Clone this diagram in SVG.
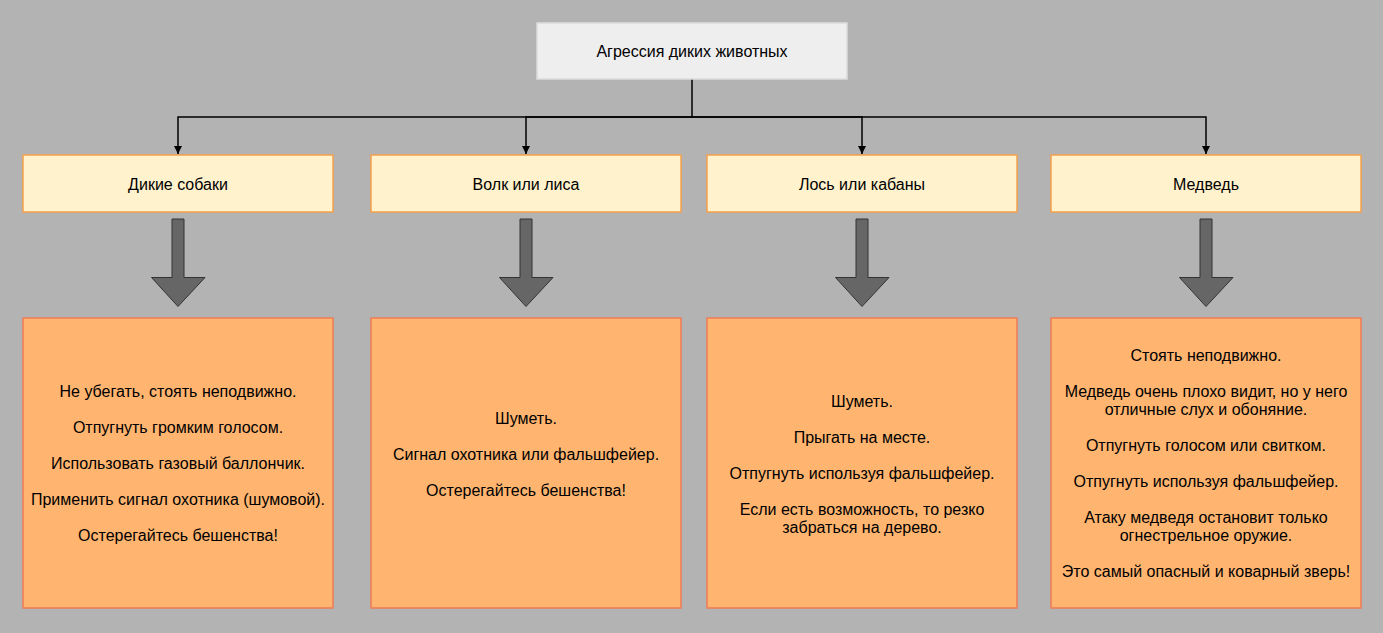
<svg xmlns="http://www.w3.org/2000/svg" width="1383" height="633" viewBox="0 0 1383 633">
<style>
text{font-family:"Liberation Sans",Arial,sans-serif;font-size:16px;fill:#000;text-anchor:middle}
.top{fill:#eeeeee;stroke:#dcdcdc;stroke-width:1.5}
.mid{fill:#fff2cc;stroke:#f5a04a;stroke-width:1.5}
.bot{fill:#ffb570;stroke:#ee7b55;stroke-width:1.5}
.con{fill:none;stroke:#000;stroke-width:1.5}
.big{fill:#666666;stroke:#333333;stroke-width:1}
</style>
<defs>
<marker id="ah" markerWidth="10" markerHeight="10" refX="8" refY="5" orient="auto" markerUnits="userSpaceOnUse">
<path d="M0,1 L8,5 L0,9 Z" fill="#000"/>
</marker>
</defs>
<rect width="1383" height="633" fill="#b3b3b3"/>
<g id="connectors">
<path class="con" d="M692,79 V117 H178 V154" marker-end="url(#ah)"/>
<path class="con" d="M692,117 H526 V154" marker-end="url(#ah)"/>
<path class="con" d="M692,117 H862 V154" marker-end="url(#ah)"/>
<path class="con" d="M692,117 H1206 V154" marker-end="url(#ah)"/>
<path class="big" d="M172,219 H184 V277.5 H205 L178,306.5 L151.5,277.5 H172 Z"/>
<path class="big" d="M520,219 H532 V277.5 H553 L526,306.5 L499.5,277.5 H520 Z"/>
<path class="big" d="M856,219 H868 V277.5 H889 L862,306.5 L835.5,277.5 H856 Z"/>
<path class="big" d="M1200,219 H1212 V277.5 H1233 L1206,306.5 L1179.5,277.5 H1200 Z"/>
</g>
<g id="root"><rect class="top" x="537" y="23" width="310" height="56"/><text x="692" y="57">Агрессия диких животных</text></g>
<g id="dogs"><rect class="mid" x="23" y="155" width="310" height="57"/><text x="178" y="190">Дикие собаки</text></g>
<g id="wolf"><rect class="mid" x="371" y="155" width="310" height="57"/><text x="526" y="190">Волк или лиса</text></g>
<g id="moose"><rect class="mid" x="707" y="155" width="310" height="57"/><text x="862" y="190">Лось или кабаны</text></g>
<g id="bear"><rect class="mid" x="1051" y="155" width="310" height="57"/><text x="1206" y="190">Медведь</text></g>
<g id="dogs-advice"><rect class="bot" x="23" y="318" width="310" height="290"/>
<text x="178" y="397">Не убегать, стоять неподвижно.</text>
<text x="178" y="433">Отпугнуть громким голосом.</text>
<text x="178" y="469">Использовать газовый баллончик.</text>
<text x="178" y="505">Применить сигнал охотника (шумовой).</text>
<text x="178" y="541">Остерегайтесь бешенства!</text>
</g>
<g id="wolf-advice"><rect class="bot" x="371" y="318" width="310" height="290"/>
<text x="526" y="424">Шуметь.</text>
<text x="526" y="460">Сигнал охотника или фальшфейер.</text>
<text x="526" y="496">Остерегайтесь бешенства!</text>
</g>
<g id="moose-advice"><rect class="bot" x="707" y="318" width="310" height="290"/>
<text x="862" y="407">Шуметь.</text>
<text x="862" y="443">Прыгать на месте.</text>
<text x="862" y="479">Отпугнуть используя фальшфейер.</text>
<text x="862" y="515">Если есть возможность, то резко</text>
<text x="862" y="533">забраться на дерево.</text>
</g>
<g id="bear-advice"><rect class="bot" x="1051" y="318" width="310" height="290"/>
<text x="1206" y="361">Стоять неподвижно.</text>
<text x="1206" y="397">Медведь очень плохо видит, но у него</text>
<text x="1206" y="415">отличные слух и обоняние.</text>
<text x="1206" y="451">Отпугнуть голосом или свитком.</text>
<text x="1206" y="487">Отпугнуть используя фальшфейер.</text>
<text x="1206" y="523">Атаку медведя остановит только</text>
<text x="1206" y="541">огнестрельное оружие.</text>
<text x="1206" y="577">Это самый опасный и коварный зверь!</text>
</g>
</svg>
